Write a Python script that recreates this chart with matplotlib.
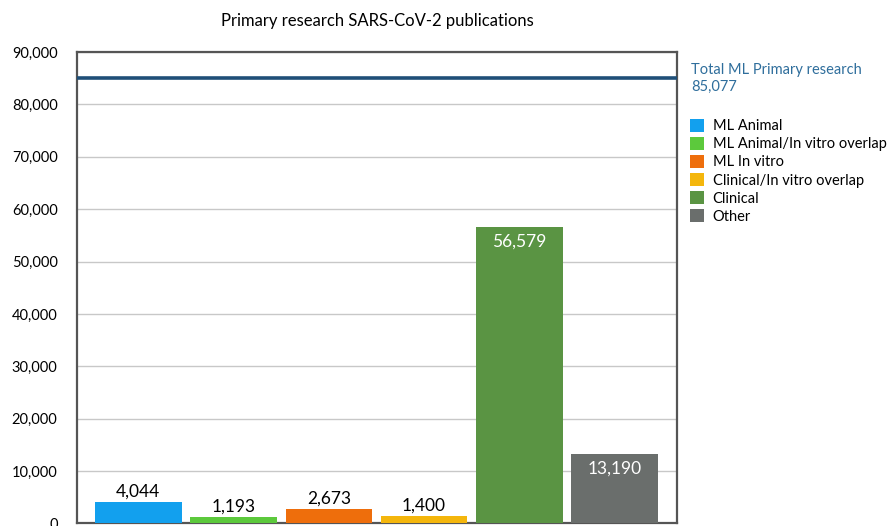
import matplotlib
matplotlib.use("Agg")
import matplotlib.pyplot as plt
from matplotlib.ticker import FuncFormatter
from matplotlib.patches import Patch

plt.rcParams['font.family'] = ['Lato', 'DejaVu Sans']

categories = ["ML Animal", "ML Animal/In vitro overlap", "ML In vitro",
              "Clinical/In vitro overlap", "Clinical", "Other"]
values = [4044, 1193, 2673, 1400, 56579, 13190]
colors = ["#12A0EE", "#5CC93C", "#EE6E0C", "#F4B60C", "#5A9443", "#6A6E6C"]
total_value = 85077
total_label = "Total ML Primary research"
title = "Primary research SARS-CoV-2 publications"
inside_label = [False, False, False, False, True, True]

fig = plt.figure(figsize=(8.93, 5.26), dpi=100)
ax = fig.add_axes([0.0862, 0.005, 0.672, 0.896])

x = list(range(len(values)))
ax.bar(x, values, width=0.91, color=colors, zorder=3)
ax.set_xlim(-0.645, 5.657)
ax.set_ylim(0, 90000)
ax.set_yticks(range(0, 90001, 10000))
ax.yaxis.set_major_formatter(FuncFormatter(lambda v, p: f"{int(v):,}"))
ax.tick_params(axis='y', length=0, labelsize=10.5, pad=14)
ax.set_xticks([])
ax.grid(axis='y', color='#C8C8C8', linewidth=1.0, zorder=0)
for s in ax.spines.values():
    s.set_color('#555555')
    s.set_linewidth(1.6)

ax.axhline(total_value, color='#1F4F78', linewidth=2.6, zorder=4)

for xi, v, inside in zip(x, values, inside_label):
    if inside:
        ax.annotate(f"{v:,}", (xi, v), xytext=(0, -10.5), textcoords='offset points',
                    ha='center', va='center', color='white', fontsize=12.5, zorder=5)
    else:
        ax.annotate(f"{v:,}", (xi, v), xytext=(0, 2), textcoords='offset points',
                    ha='center', va='bottom', color='black', fontsize=12.5, zorder=5)

ax.set_title(title, fontsize=12, pad=19)

fig.text(691/893, 1 - 70/526, total_label, color='#2F6E9C', fontsize=10.5,
         ha='left', va='center')
fig.text(691/893, 1 - 87/526, f"{total_value:,}", color='#2F6E9C', fontsize=10.5,
         ha='left', va='center')

handles = [Patch(facecolor=c, edgecolor='none', label=l) for c, l in zip(colors, categories)]
fig.legend(handles=handles, loc='upper left', bbox_to_anchor=(690/893, 1 - 119/526),
           frameon=False, fontsize=10.5, handlelength=0.95, handleheight=0.95,
           handletextpad=0.6, labelspacing=0.26, borderaxespad=0, borderpad=0)

fig.savefig("out.png", dpi=100)
